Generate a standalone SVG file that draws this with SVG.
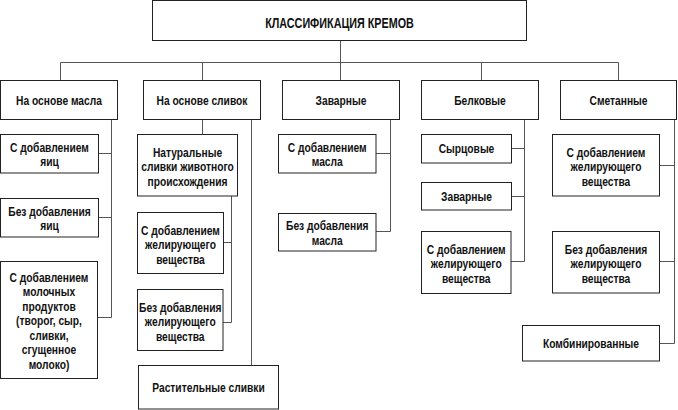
<svg xmlns="http://www.w3.org/2000/svg" width="678" height="410" viewBox="0 0 678 410">
<style>
rect.b{fill:#fff;stroke:#222;stroke-width:1}
.c path{fill:none;stroke:#555;stroke-width:1}
text{font-family:"Liberation Sans",Arial,sans-serif;font-weight:bold;font-size:13.3px;fill:#111;text-anchor:middle}
text.t{font-size:14px}
</style>
<rect width="678" height="410" fill="#fff"/>
<g class="c">
<path d="M60.5 80.5V62.5H618.5V80.5M202.5 62.5V80.5M340.5 40.5V80.5M481.5 62.5V80.5"/>
<path d="M111.5 119.5V317.5M98.5 153.5H111.5M98.5 217.5H111.5M97.5 317.5H111.5"/>
<path d="M202.5 119.5V134.5M231.5 196V322.5M223.5 242.5H231.5M223 322.5H231.5M251.5 119.5V365.5"/>
<path d="M390.5 119.5V231.5M376 153.5H390.5M376 231.5H390.5"/>
<path d="M524.5 119.5V261.5M511.5 148.5H524.5M511.5 196.5H524.5M511 261.5H524.5"/>
<path d="M674.5 119.5V343.5M659.5 165.5H674.5M659.5 261.5H674.5M659.5 343.5H674.5"/>
</g>
<g id="title"><rect class="b" x="152.5" y="0.5" width="374" height="40"/><text class="t" transform="translate(339.5 27.5) scale(0.77 1)">КЛАССИФИКАЦИЯ КРЕМОВ</text></g>
<g id="n1"><rect class="b" x="0.5" y="80.5" width="117" height="39"/><text transform="translate(59 104.5) scale(0.77 1)">На основе масла</text></g>
<g id="n2"><rect class="b" x="143.5" y="80.5" width="117" height="39"/><text transform="translate(202 104.5) scale(0.77 1)">На основе сливок</text></g>
<g id="n3"><rect class="b" x="282.5" y="80.5" width="117" height="39"/><text transform="translate(341 104.5) scale(0.77 1)">Заварные</text></g>
<g id="n4"><rect class="b" x="421.5" y="80.5" width="117" height="39"/><text transform="translate(480 104.5) scale(0.77 1)">Белковые</text></g>
<g id="n5"><rect class="b" x="560.5" y="80.5" width="116" height="39"/><text transform="translate(618.5 104.5) scale(0.77 1)">Сметанные</text></g>

<g id="n1a"><rect class="b" x="0.5" y="134.5" width="98" height="38.5"/><text transform="translate(49.5 151.5) scale(0.77 1)">С добавлением</text><text transform="translate(49.5 166) scale(0.77 1)">яиц</text></g>
<g id="n1b"><rect class="b" x="0.5" y="198.5" width="98" height="38.5"/><text transform="translate(49.5 215.5) scale(0.77 1)">Без добавления</text><text transform="translate(49.5 230) scale(0.77 1)">яиц</text></g>
<g id="n1c"><rect class="b" x="0.5" y="261.5" width="97" height="117"/>
<text transform="translate(49 281.5) scale(0.77 1)">С добавлением</text><text transform="translate(49 296) scale(0.77 1)">молочных</text><text transform="translate(49 310.5) scale(0.77 1)">продуктов</text><text transform="translate(49 325) scale(0.77 1)">(творог, сыр,</text><text transform="translate(49 339.5) scale(0.77 1)">сливки,</text><text transform="translate(49 354) scale(0.77 1)">сгущенное</text><text transform="translate(49 368.5) scale(0.77 1)">молоко)</text></g>

<g id="n2a"><rect class="b" x="137.5" y="134.5" width="100" height="61.5"/><text transform="translate(187.5 156.5) scale(0.77 1)">Натуральные</text><text transform="translate(187.5 171) scale(0.77 1)">сливки животного</text><text transform="translate(187.5 185.5) scale(0.77 1)">происхождения</text></g>
<g id="n2b"><rect class="b" x="137.5" y="212.5" width="86" height="61"/><text transform="translate(180.5 234.5) scale(0.77 1)">С добавлением</text><text transform="translate(180.5 249) scale(0.77 1)">желирующего</text><text transform="translate(180.5 263.5) scale(0.77 1)">вещества</text></g>
<g id="n2c"><rect class="b" x="137.5" y="289.5" width="85.5" height="61"/><text transform="translate(180.25 311.5) scale(0.77 1)">Без добавления</text><text transform="translate(180.25 326) scale(0.77 1)">желирующего</text><text transform="translate(180.25 340.5) scale(0.77 1)">вещества</text></g>
<g id="n2d"><rect class="b" x="138.5" y="365.5" width="140" height="43.5"/><text transform="translate(208.5 392) scale(0.77 1)">Растительные сливки</text></g>

<g id="n3a"><rect class="b" x="278.5" y="134.5" width="97.5" height="38.5"/><text transform="translate(327.25 151.5) scale(0.77 1)">С добавлением</text><text transform="translate(327.25 166) scale(0.77 1)">масла</text></g>
<g id="n3b"><rect class="b" x="278.5" y="213.5" width="97.5" height="37.5"/><text transform="translate(327.25 230) scale(0.77 1)">Без добавления</text><text transform="translate(327.25 244.5) scale(0.77 1)">масла</text></g>

<g id="n4a"><rect class="b" x="421.5" y="134.5" width="90" height="28.5"/><text transform="translate(466.5 153) scale(0.77 1)">Сырцовые</text></g>
<g id="n4b"><rect class="b" x="421.5" y="182.5" width="90" height="27.5"/><text transform="translate(466.5 200.5) scale(0.77 1)">Заварные</text></g>
<g id="n4c"><rect class="b" x="421.5" y="231.5" width="89.5" height="62"/><text transform="translate(466.25 253.5) scale(0.77 1)">С добавлением</text><text transform="translate(466.25 268) scale(0.77 1)">желирующего</text><text transform="translate(466.25 282.5) scale(0.77 1)">вещества</text></g>

<g id="n5a"><rect class="b" x="552.5" y="134.5" width="107" height="61.5"/><text transform="translate(606 156.5) scale(0.77 1)">С добавлением</text><text transform="translate(606 171) scale(0.77 1)">желирующего</text><text transform="translate(606 185.5) scale(0.77 1)">вещества</text></g>
<g id="n5b"><rect class="b" x="552.5" y="231.5" width="107" height="61.5"/><text transform="translate(606 253.5) scale(0.77 1)">Без добавления</text><text transform="translate(606 268) scale(0.77 1)">желирующего</text><text transform="translate(606 282.5) scale(0.77 1)">вещества</text></g>
<g id="n5c"><rect class="b" x="522.5" y="325.5" width="137" height="35.5"/><text transform="translate(591 347.5) scale(0.77 1)">Комбинированные</text></g>
</svg>
